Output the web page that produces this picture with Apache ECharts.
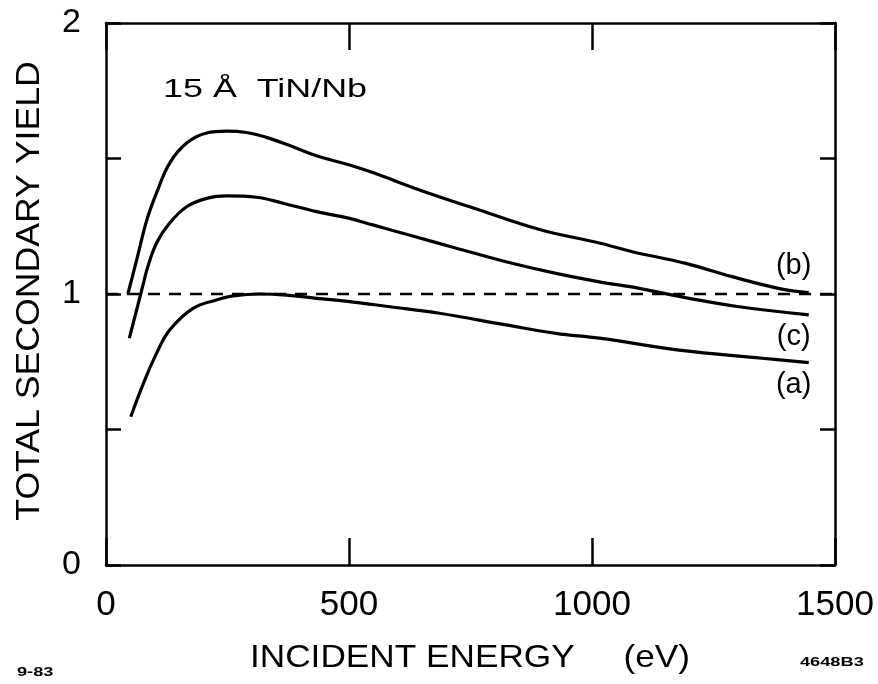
<!DOCTYPE html>
<html>
<head>
<meta charset="utf-8">
<script src="https://cdn.jsdelivr.net/npm/echarts@6/dist/echarts.min.js"></script>
<style>html,body{margin:0;padding:0;background:#fff;}#c{width:878px;height:684px;}</style>
</head>
<body>
<div id="c"></div>
<script>
// Curve (b)
const energyB = [45, 63, 84, 104, 131, 166, 207, 248, 289, 330, 378, 433, 501, 549, 645, 768, 892, 1015, 1083, 1193, 1288, 1391, 1446];
const yieldB  = [1.00, 1.125, 1.273, 1.373, 1.483, 1.557, 1.594, 1.601, 1.596, 1.578, 1.548, 1.510, 1.476, 1.448, 1.384, 1.310, 1.238, 1.188, 1.156, 1.113, 1.064, 1.018, 1.005];
// Curve (c)
const energyC = [48, 63, 77, 84, 104, 131, 166, 207, 248, 310, 364, 433, 501, 549, 631, 721, 823, 926, 1015, 1097, 1200, 1303, 1446];
const yieldC  = [0.837, 0.941, 1.039, 1.089, 1.188, 1.262, 1.322, 1.353, 1.362, 1.357, 1.335, 1.304, 1.279, 1.255, 1.214, 1.169, 1.119, 1.076, 1.045, 1.021, 0.984, 0.953, 0.923];
// Curve (a)
const energyA = [51, 77, 104, 131, 179, 227, 262, 316, 371, 433, 501, 584, 686, 823, 926, 1015, 1179, 1350, 1446];
const yieldA  = [0.547, 0.670, 0.781, 0.867, 0.947, 0.978, 0.993, 1.000, 0.996, 0.984, 0.972, 0.953, 0.929, 0.886, 0.855, 0.837, 0.793, 0.763, 0.747];
// Unity reference line
const unityLine = [[0, 1], [1500, 1]];
// Curve labels
const curveLabels = [
  {name: '(b)', x: 1416, y: 1.10},
  {name: '(c)', x: 1416, y: 0.841},
  {name: '(a)', x: 1416, y: 0.664}
];
const xTicks = [0, 500, 1000, 1500];
const yTickLabels = ['0', '1', '2'];
const titleText = '15 Å  TiN/Nb';
const xTitle = 'INCIDENT ENERGY     (eV)';
const yTitle = 'TOTAL SECONDARY YIELD';
const noteLeft = '9-83';
const noteRight = '4648B3';

const FONT = 'Liberation Sans';
const zip = (xs, ys) => xs.map((x, i) => [x, ys[i]]);

const chart = echarts.init(document.getElementById('c'), null, {renderer: 'canvas'});
const lineStyle = {color: '#000', width: 3.2};
const axisCommon = {
  type: 'value',
  axisLine: {show: true, onZero: false, lineStyle: {color: '#000', width: 2.5}},
  splitLine: {show: false}
};
chart.setOption({
  animation: false,
  backgroundColor: '#fff',
  grid: {left: 106, top: 23, width: 729, height: 542},
  xAxis: [
    Object.assign({}, axisCommon, {
      min: 0, max: 1500, interval: 500, position: 'bottom',
      axisTick: {show: true, inside: true, length: 27, lineStyle: {color: '#000', width: 2.5}},
      axisLabel: {show: true, margin: 23, color: '#000', fontFamily: FONT, fontSize: 35,
        formatter: v => xTicks.indexOf(v) >= 0 ? String(v) : ''}
    }),
    Object.assign({}, axisCommon, {
      min: 0, max: 1500, interval: 500, position: 'top',
      axisTick: {show: true, inside: true, length: 27, lineStyle: {color: '#000', width: 2.5}},
      axisLabel: {show: false}
    })
  ],
  yAxis: [
    Object.assign({}, axisCommon, {
      min: 0, max: 2, interval: 0.5, position: 'left',
      axisTick: {show: true, inside: true, length: 15, lineStyle: {color: '#000', width: 2.5}},
      axisLabel: {show: true, margin: 25, color: '#000', fontFamily: FONT, fontSize: 34,
        formatter: v => (Number.isInteger(v) && yTickLabels.indexOf(String(v)) >= 0) ? String(v) : ''}
    }),
    Object.assign({}, axisCommon, {
      min: 0, max: 2, interval: 0.5, position: 'right',
      axisTick: {show: true, inside: true, length: 15, lineStyle: {color: '#000', width: 2.5}},
      axisLabel: {show: false}
    })
  ],
  series: [
    {type: 'line', name: 'unity', data: unityLine, showSymbol: false, silent: true,
     lineStyle: {color: '#000', width: 2.5, type: [12, 9]}},
    {type: 'line', name: '(b)', data: zip(energyB, yieldB), smooth: 0.4, showSymbol: false, lineStyle: lineStyle},
    {type: 'line', name: '(c)', data: zip(energyC, yieldC), smooth: 0.4, showSymbol: false, lineStyle: lineStyle},
    {type: 'line', name: '(a)', data: zip(energyA, yieldA), smooth: 0.4, showSymbol: false, lineStyle: lineStyle},
    {type: 'scatter', name: 'labels', symbol: 'circle', symbolSize: 1, silent: true,
     itemStyle: {color: 'rgba(0,0,0,0)', opacity: 1},
     emphasis: {disabled: true},
     data: curveLabels.map(d => ({name: d.name, value: [d.x, d.y]})),
     label: {show: true, position: [0, 0], align: 'center', verticalAlign: 'middle',
       formatter: p => p.name, color: '#000', opacity: 1,
       fontFamily: FONT, fontSize: 29}}
  ],
  graphic: [
    {type: 'text', x: 163, y: 90, scaleX: 1.38,
     style: {text: titleText, fill: '#000', font: '26px "' + FONT + '"', verticalAlign: 'middle'}},
    {type: 'text', x: 250, y: 658, scaleX: 1.1,
     style: {text: xTitle, fill: '#000', font: '32px "' + FONT + '"', verticalAlign: 'middle'}},
    {type: 'text', x: 46, y: 291, rotation: Math.PI / 2, scaleX: 1.08,
     style: {text: yTitle, fill: '#000', font: '33px "' + FONT + '"', align: 'center', verticalAlign: 'bottom'}},
    {type: 'text', x: 17, y: 672, scaleX: 1.4,
     style: {text: noteLeft, fill: '#000', font: 'bold 13px "' + FONT + '"', verticalAlign: 'middle'}},
    {type: 'text', x: 800, y: 662, scaleX: 1.4,
     style: {text: noteRight, fill: '#000', font: 'bold 13px "' + FONT + '"', verticalAlign: 'middle'}}
  ]
});
</script>
</body>
</html>
